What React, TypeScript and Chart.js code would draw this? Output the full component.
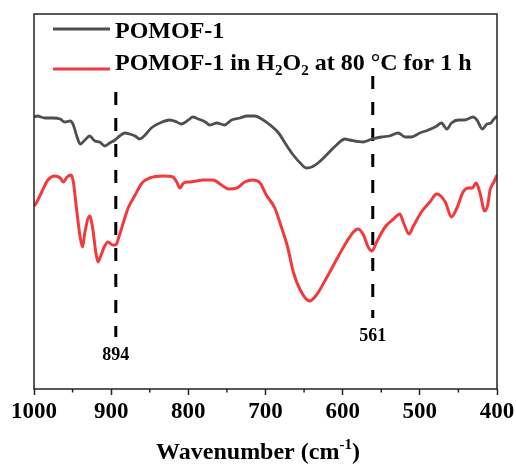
import { useEffect, useRef } from 'react';
import { Chart, registerables } from 'chart.js';

Chart.register(...registerables);

// ---- data (wavenumber in cm-1, relative transmittance in arbitrary units) ----
const grayWavenumbers = [1000, 996, 986, 975, 966, 960, 953, 949, 945, 940, 934, 928, 921, 915, 908, 902, 895, 889, 882, 876, 869, 863, 856, 848, 837, 824, 815, 809, 800, 794, 787, 778, 772, 763, 753, 744, 733, 724, 714, 705, 694, 683, 673, 664, 655, 647, 640, 632, 621, 608, 597, 591, 573, 562, 550, 539, 528, 519, 511, 500, 489, 478, 472, 465, 459, 450, 442, 431, 426, 419, 413, 408, 405, 400];
const grayValues = [272, 273, 271, 271, 270, 267, 268, 264, 254, 245, 249, 253, 248, 247, 243, 246, 249, 253, 256, 255, 253, 250, 254, 261, 266, 269, 267, 265, 269, 272, 270, 267, 264, 266, 264, 269, 271, 273, 273, 270, 264, 256, 244, 234, 226, 221, 222, 226, 234, 244, 250, 249, 247, 250, 252, 253, 256, 252, 252, 256, 259, 263, 266, 260, 266, 269, 269, 272, 269, 260, 265, 266, 269, 273];

const redWavenumbers = [1000, 997, 990, 982, 973, 966, 962, 957, 952, 949, 945, 940, 937, 934, 928, 924, 920, 917, 914, 909, 904, 898, 894, 890, 884, 878, 869, 860, 850, 833, 820, 815, 811, 806, 798, 789, 781, 768, 757, 748, 737, 727, 716, 707, 699, 688, 679, 671, 664, 655, 643, 634, 621, 604, 595, 586, 580, 573, 567, 562, 556, 545, 534, 526, 521, 514, 509, 498, 487, 478, 467, 459, 452, 444, 437, 432, 427, 422, 416, 412, 409, 404, 400];
const redValues = [183, 186, 197, 209, 213, 211, 207, 212, 214, 207, 181, 151, 142, 157, 173, 161, 137, 127, 132, 142, 147, 144, 144, 152, 167, 181, 194, 206, 211, 213, 212, 207, 201, 206, 207, 208, 209, 209, 204, 200, 201, 207, 209, 206, 194, 181, 161, 141, 117, 99, 88, 94, 111, 135, 147, 157, 160, 154, 142, 138, 147, 162, 170, 175, 166, 155, 162, 177, 187, 195, 187, 172, 181, 197, 201, 201, 206, 196, 178, 184, 199, 207, 214];

const markerWavenumbers = [894, 561];
const markerTop = [297, 313];
const markerBottom = [52, 71];
const markerLabels = ['894', '561'];

const majorTicks = [1000, 900, 800, 700, 600, 500, 400];
const minorTicks = [950, 850, 750, 650, 550, 450];

const seriesNames = ['POMOF-1', 'POMOF-1 in H2O2 at 80 °C for 1 h'];
// legend text for the second series split into normal / subscript runs
const legendRuns2: [string, boolean][] = [
  ['POMOF-1 in H', false],
  ['2', true],
  ['O', false],
  ['2', true],
  [' at 80 °C for 1 h', false],
];
const axisTitleMain = 'Wavenumber (cm';
const axisTitleSup = '-1';
const axisTitleEnd = ')';

const GRAY = '#4f4f4f';
const RED = '#f03a3d';
const SERIF = '"Liberation Serif", "Times New Roman", serif';

const decorPlugin = {
  id: 'decor',
  afterDraw(chart: any) {
    const ctx: CanvasRenderingContext2D = chart.ctx;
    const { left, right, top, bottom } = chart.chartArea;
    const xs = chart.scales.x;
    const ys = chart.scales.y;
    ctx.save();

    // frame
    ctx.strokeStyle = '#222';
    ctx.lineWidth = 1.5;
    ctx.strokeRect(left, top, right - left, bottom - top);

    // minor ticks
    ctx.lineWidth = 1.5;
    for (const w of minorTicks) {
      const px = xs.getPixelForValue(w);
      ctx.beginPath();
      ctx.moveTo(px, bottom);
      ctx.lineTo(px, bottom + 3.5);
      ctx.stroke();
    }

    // marker labels
    ctx.fillStyle = '#000';
    ctx.font = `bold 18px ${SERIF}`;
    ctx.textAlign = 'center';
    ctx.textBaseline = 'alphabetic';
    markerWavenumbers.forEach((w, i) => {
      const px = xs.getPixelForValue(w);
      const py = ys.getPixelForValue(markerBottom[i]) + 23;
      ctx.fillText(markerLabels[i], px, py);
    });

    // legend
    const lx0 = left + 19;
    const lx1 = left + 76;
    const tx = left + 81;
    ctx.lineWidth = 3;
    ctx.strokeStyle = GRAY;
    ctx.beginPath();
    ctx.moveTo(lx0, top + 15);
    ctx.lineTo(lx1, top + 15);
    ctx.stroke();
    ctx.strokeStyle = RED;
    ctx.beginPath();
    ctx.moveTo(lx0, top + 55);
    ctx.lineTo(lx1, top + 55);
    ctx.stroke();

    ctx.textAlign = 'left';
    ctx.fillStyle = '#000';
    ctx.font = `bold 24px ${SERIF}`;
    ctx.fillText(seriesNames[0], tx, top + 24);
    let cx = tx;
    const base2 = top + 56;
    for (const [txt, sub] of legendRuns2) {
      ctx.font = sub ? `bold 15px ${SERIF}` : `bold 24px ${SERIF}`;
      ctx.fillText(txt, cx, sub ? base2 + 5 : base2);
      cx += ctx.measureText(txt).width;
    }

    // axis title
    ctx.font = `bold 24px ${SERIF}`;
    const w1 = ctx.measureText(axisTitleMain).width;
    const w3 = ctx.measureText(axisTitleEnd).width;
    ctx.font = `bold 15px ${SERIF}`;
    const w2 = ctx.measureText(axisTitleSup).width;
    const total = w1 + w2 + w3;
    const startX = 258 - total / 2;
    const by = 459;
    ctx.font = `bold 24px ${SERIF}`;
    ctx.fillText(axisTitleMain, startX, by);
    ctx.font = `bold 15px ${SERIF}`;
    ctx.fillText(axisTitleSup, startX + w1, by - 10);
    ctx.font = `bold 24px ${SERIF}`;
    ctx.fillText(axisTitleEnd, startX + w1 + w2, by);

    ctx.restore();
  },
};

export default function App() {
  const ref = useRef<HTMLCanvasElement | null>(null);

  useEffect(() => {
    if (!ref.current) return;
    const grayData = grayWavenumbers.map((x, i) => ({ x, y: grayValues[i] }));
    const redData = redWavenumbers.map((x, i) => ({ x, y: redValues[i] }));
    const markerSets = markerWavenumbers.map((w, i) => ({
      label: 'marker' + markerLabels[i],
      data: [
        { x: w, y: markerTop[i] },
        { x: w, y: markerBottom[i] },
      ],
      borderColor: '#000',
      borderWidth: 3,
      borderDash: [13, 13],
      pointRadius: 0,
      tension: 0,
    }));

    const chart = new Chart(ref.current, {
      type: 'line',
      data: {
        datasets: [
          {
            label: seriesNames[0],
            data: grayData,
            borderColor: GRAY,
            borderWidth: 2.8,
            pointRadius: 0,
            cubicInterpolationMode: 'monotone',
          },
          {
            label: seriesNames[1],
            data: redData,
            borderColor: RED,
            borderWidth: 3,
            pointRadius: 0,
            cubicInterpolationMode: 'monotone',
          },
          ...markerSets,
        ] as any,
      },
      options: {
        animation: false,
        responsive: false,
        devicePixelRatio: 1,
        layout: { padding: { left: 34, right: 19, top: 14, bottom: 0 } },
        plugins: {
          legend: { display: false },
          tooltip: { enabled: false },
          title: { display: false },
        },
        scales: {
          x: {
            type: 'linear',
            reverse: true,
            min: 400,
            max: 1000,
            afterBuildTicks: (scale: any) => {
              scale.ticks = majorTicks.map((v) => ({ value: v }));
            },
            afterFit: (scale: any) => {
              scale.height = 75;
              scale.paddingLeft = 0;
              scale.paddingRight = 0;
            },
            ticks: {
              color: '#000',
              padding: 3,
              maxRotation: 0,
              autoSkip: false,
              font: { family: SERIF, size: 23, weight: 'bold' },
              callback: (v: any) => String(v),
            },
            grid: {
              drawOnChartArea: false,
              drawTicks: true,
              tickLength: 6,
              tickWidth: 1.5,
              tickColor: '#222',
            },
            border: { display: false },
          },
          y: {
            display: false,
            min: 0,
            max: 375,
          },
        },
      } as any,
      plugins: [decorPlugin],
    });
    return () => chart.destroy();
  }, []);

  return (
    <div style={{ position: 'fixed', left: 0, top: 0, width: 516, height: 464, background: '#fff' }}>
      <canvas ref={ref} width={516} height={464} style={{ display: 'block' }} />
    </div>
  );
}
